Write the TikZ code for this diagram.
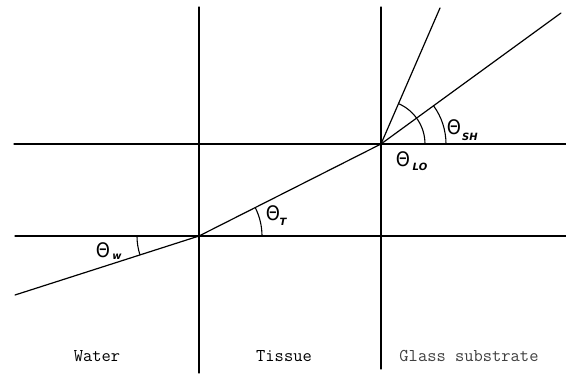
\documentclass[tikz,border=0pt]{standalone}
\usepackage{fontspec}
\newfontfamily\thetafont{DejaVu Sans}
\begin{document}
\begin{tikzpicture}[x=1pt,y=-1pt,
  ln/.style={line width=1.2pt, line cap=round},
  anglearc/.style={line width=1.1pt},
  theta/.style={inner sep=0pt, xscale=0.9, font=\thetafont\fontsize{20}{20}\selectfont},
  subs/.style={inner sep=0pt, font=\thetafont\bfseries\itshape\fontsize{10}{10}\selectfont},
  medium/.style={inner sep=0pt, font=\ttfamily\fontsize{18}{20}\selectfont}]
\useasboundingbox (0,0) rectangle (566,374);
% key points
\coordinate (P) at (199,236);
\coordinate (Q) at (381,144);
\coordinate (vLtop) at (199,7);
\coordinate (vLbot) at (199,373);
\coordinate (vRtop) at (381,7);
\coordinate (vRbot) at (381,369);
\coordinate (hUl) at (14,144);
\coordinate (hUr) at (566,144);
\coordinate (hLl) at (15,236);
\coordinate (hLr) at (566,236);
\coordinate (W) at (15,295);
\coordinate (G) at (561,13);
\coordinate (S) at (440,8);
% grid lines
\draw[ln] (vLtop) -- (vLbot);
\draw[ln] (vRtop) -- (vRbot);
\draw[ln] (hUl) -- (hUr);
\draw[ln] (hLl) -- (hLr);
% rays
\draw[ln] (W) -- (P);
\draw[ln] (P) -- (Q);
\draw[ln] (Q) -- (G);
\draw[ln] (Q) -- (S);
% angle arcs
\draw[anglearc] ([shift={(180:62pt)}]P) arc[start angle=180, end angle=197.8, radius=62pt];
\draw[anglearc] ([shift={(0:63pt)}]P) arc[start angle=0, end angle=26.8, radius=63pt];
\draw[anglearc] ([shift={(0:44pt)}]Q) arc[start angle=0, end angle=66.5, radius=44pt];
\draw[anglearc] ([shift={(0:65pt)}]Q) arc[start angle=0, end angle=36, radius=65pt];
% angle labels
\node[theta] (tw) at (103,250) {Θ};
\node[subs] (tws) at (117,257) {w};
\node[theta] (tt) at (273,213) {Θ};
\node[subs] (tts) at (283,222) {T};
\node[theta] (tl) at (403,159) {Θ};
\node[subs] (tls) at (420,167) {LO};
\node[theta] (ts) at (454,127) {Θ};
\node[subs] (tss) at (470,137) {SH};
% medium labels
\node[medium] (water) at (97,356) {Water};
\node[medium] (tissue) at (284,356) {Tissue};
\node[medium, text=black!75] (glass) at (469,356) {Glass substrate};
\end{tikzpicture}
\end{document}
